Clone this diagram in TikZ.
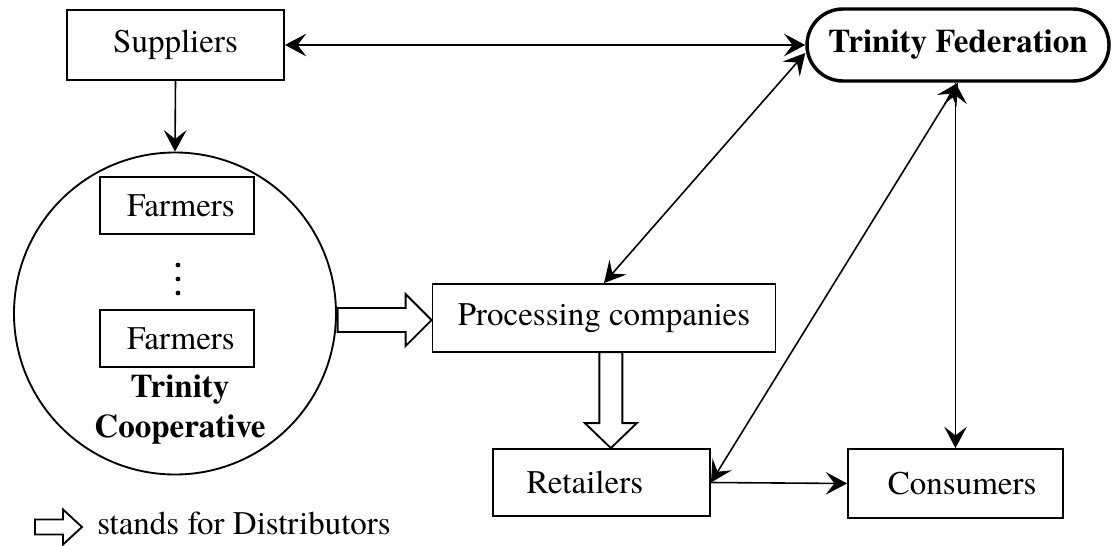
\documentclass[tikz,border=0pt]{standalone}
\usepackage{fontspec}
\setmainfont{texgyretermes}[Extension=.otf, UprightFont=*-regular, BoldFont=*-bold, ItalicFont=*-italic, BoldItalicFont=*-bolditalic]
\usetikzlibrary{arrows.meta}

\begin{document}
\begin{tikzpicture}[x=0.75pt, y=-0.75pt,
  font=\fontsize{24.75pt}{30pt}\selectfont,
  box/.style={draw, shape=rectangle, line width=1.4pt, inner sep=0pt, anchor=center},
  bold/.style={font=\fontsize{24.75pt}{30pt}\selectfont\bfseries},
  link/.style={line width=1.2pt, {Stealth[length=16pt,width=17pt,inset=6.5pt]}-{Stealth[length=16pt,width=17pt,inset=6.5pt]}},
  flow/.style={line width=1.2pt, -{Stealth[length=16pt,width=17pt,inset=6.5pt]}},
  hollow/.style={draw, line width=1.4pt, line join=miter, fill=white}]

\useasboundingbox (0,0) rectangle (1117,546);

\coordinate (r1) at (175.5,45);
\coordinate (r2) at (958,45);
\coordinate (r3) at (175,313.5);

\node[box, minimum width=162.75pt, minimum height=52.5pt] (sup) at (r1) {Suppliers};
\node[box, bold, line width=2.6pt, rounded corners=27pt, minimum width=226.5pt, minimum height=54pt] (fed) at (r2) {Trinity Federation};

\node[draw, shape=circle, line width=1.4pt, minimum size=241.5pt, inner sep=0pt] (coop) at (r3) {};
\node[box, minimum width=115.5pt, minimum height=42.75pt] (farm1) at (177,205.5) {\hspace*{6pt}Farmers};
\node[box, minimum width=115.5pt, minimum height=42.75pt] (farm2) at (177,338.5) {\hspace*{6pt}Farmers};
\fill (178,265) circle (1.8pt);
\fill (178,279) circle (1.8pt);
\fill (178,293) circle (1.8pt);
\node[bold, align=center] (coopname) at (180,410) {Trinity\\Cooperative};

\node[box, minimum width=257.25pt, minimum height=51pt] (proc) at (604,318) {Processing companies};
\node[box, minimum width=162.75pt, minimum height=50.25pt] (ret) at (601.5,482.5) {Retailers\hspace*{25pt}};
\node[box, minimum width=161.25pt, minimum height=51.75pt] (cons) at (955.5,483.5) {\hspace*{10pt}Consumers};

% distributors
\draw[hollow] ([yshift=-1.5pt]proc.west) -- ++(-26,-26) -- ++(0,14) -- ++(-68,0)
  -- ++(0,24) -- ++(68,0) -- ++(0,14) -- cycle;
\draw[hollow] ([xshift=7pt]ret.north) -- ++(-26,-25) -- ++(14.5,0) -- ++(0,-71)
  -- ++(23,0) -- ++(0,71) -- ++(14.5,0) -- cycle;

\draw[link] (sup.east) -- (fed.west);
\draw[flow] (sup.south) -- (coop.north);
\draw[link] (proc.north) -- (fed.183);
\draw[link] (ret.east) -- (fed.south);
\draw[link] (cons.north |- fed.south) -- (cons.north);
\draw[flow] (ret.east) -- (cons.west);

% legend
\draw[hollow] (82,527) -- (63,509.5) -- (63,519.5) -- (35,519.5) -- (35,534.5)
  -- (63,534.5) -- (63,544.5) -- cycle;
\node[anchor=base west, inner sep=0pt] (legend) at (97,534) {stands for Distributors};
\end{tikzpicture}
\end{document}
